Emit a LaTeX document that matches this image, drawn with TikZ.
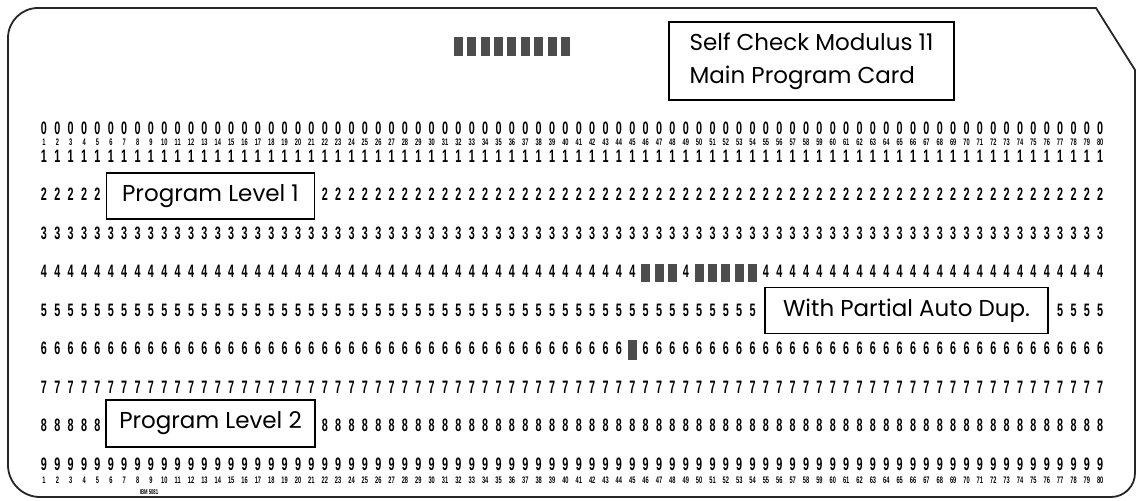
\documentclass[tikz,border=0pt]{standalone}
\usepackage{fontspec}
\newfontfamily\cardfont[FakeStretch=0.6]{Liberation Sans}
\newfontfamily\labelfont{Poppins}
\usetikzlibrary{positioning}

\begin{document}
\begin{tikzpicture}[x=1pt, y=-1pt,
    digit/.style={font=\cardfont\bfseries\fontsize{18}{18}\selectfont, inner sep=0pt},
    colnum/.style={font=\cardfont\bfseries\fontsize{9.5}{9.5}\selectfont, inner sep=0pt},
    hole/.style={fill=black!70, minimum width=9pt, minimum height=19pt, inner sep=0pt},
    tag/.style={draw, line width=1.6pt, fill=white, font=\labelfont\fontsize{23}{33}\selectfont, inner sep=0pt}
]
\useasboundingbox (0,0) rectangle (1139,500);

% card outline with the cut corner
\draw[line width=1.8pt, black!85] (8,250) [rounded corners=30pt] -- (8,8) [sharp corners] -- (1096,8)
    -- (1135,70) [rounded corners=24pt] -- (1135,497) [rounded corners=32pt] -- (8,497) -- cycle;

% printed digits, rows 0 to 9 (none under the labels and punches)
\foreach \r/\yy in {0/128,1/156,2/194.5,3/233,4/271.5,5/310,6/348.5,7/387,8/425.5,9/464}
  \foreach \c in {1,...,80} {
    \pgfmathtruncatemacro\hide{((\r==2 || \r==8) && \c>=6 && \c<=21) || (\r==5 && \c>=55 && \c<=76)
      || (\r==4 && \c>=46 && \c<=54 && \c!=49) || (\r==6 && \c==45)}
    \ifnum\hide=0
      \node[digit] (d\r-\c) at ({44+(\c-1)*13.37},\yy) {\r};
    \fi
  }

% column numbers
\foreach \c in {1,...,80} {
  \node[colnum] (top-\c) at ({44+(\c-1)*13.37},142) {\c};
  \node[colnum] (bot-\c) at ({44+(\c-1)*13.37},480) {\c};
}
\node[font=\cardfont\bfseries\fontsize{7}{7}\selectfont, inner sep=0pt] (formno) at (149,492) {IBM 5081};

% punches
\foreach \c in {32,...,40}
  \node[hole] (h12-\c) at ({44+(\c-1)*13.37},47) {};
\foreach \c in {46,47,48,50,51,52,53,54}
  \node[hole, minimum height=18pt] (h4-\c) at ({44+(\c-1)*13.37},273) {};
\node[hole, minimum height=20pt] (h6-45) at ({44+44*13.37},350) {};

% labels pasted on the card
\node[tag, minimum width=285pt, minimum height=78pt, align=left] (selfcheck) at (811.5,61)
  {Self Check Modulus 11\\Main Program Card};
\node[tag, minimum width=208pt, minimum height=46pt] (level1) at (210.5,196) {Program Level 1};
\node[tag, minimum width=283pt, minimum height=46pt] (autodup) at (906.5,310.5) {With Partial Auto Dup.};
\node[tag, minimum width=209pt, minimum height=47pt] (level2) at (210.5,423.5) {Program Level 2};
\end{tikzpicture}
\end{document}
